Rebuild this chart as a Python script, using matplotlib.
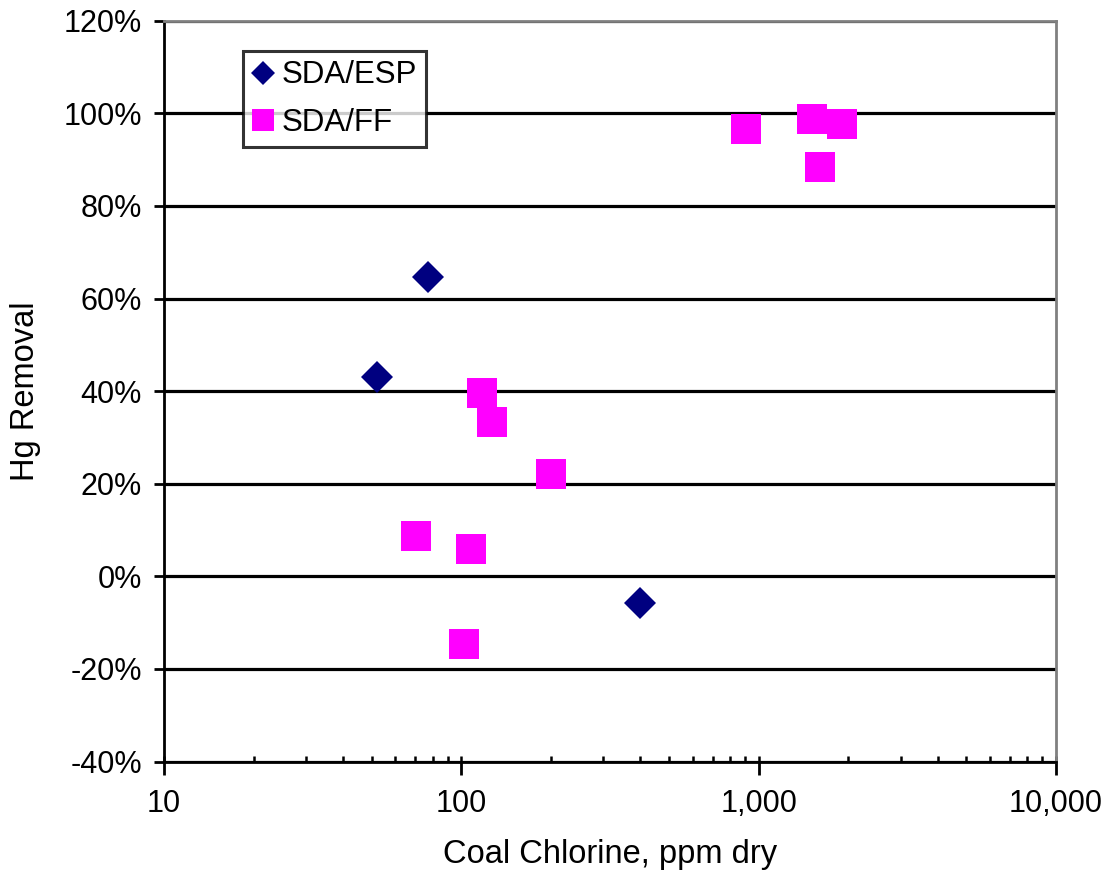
import matplotlib
matplotlib.use("Agg")
import matplotlib.pyplot as plt
from matplotlib.ticker import FuncFormatter, LogLocator, MultipleLocator

plt.rcParams['font.family'] = ['Liberation Sans', 'DejaVu Sans']

esp_x = [77.1, 51.9, 399]
esp_y = [64.6, 43.1, -5.8]
ff_x = [910, 1507, 1914, 1603, 117.4, 126.4, 201, 70.2, 107.4, 101.7]
ff_y = [96.7, 98.8, 97.6, 88.3, 39.5, 33.4, 22.0, 8.6, 6.0, -14.6]
series_names = ["SDA/ESP", "SDA/FF"]
x_label = "Coal Chlorine, ppm dry"
y_label = "Hg Removal"

fig = plt.figure(figsize=(11.09, 8.74), dpi=100)
ax = fig.add_axes([0.1479, 0.1287, 0.9522 - 0.1479, 0.9763 - 0.1287])

ax.plot(esp_x, esp_y, linestyle='none', marker='D', markersize=16.5,
        color='#000080', markeredgewidth=0, label=series_names[0], zorder=3)
ax.plot(ff_x, ff_y, linestyle='none', marker='s', markersize=22.3,
        color='#FF00FF', markeredgewidth=0, label=series_names[1], zorder=3)

ax.set_xscale('log')
ax.set_xlim(10, 10000)
ax.set_ylim(-40, 120)
ax.yaxis.set_major_locator(MultipleLocator(20))
ax.yaxis.set_major_formatter(FuncFormatter(lambda v, p: f"{v:.0f}%"))
ax.xaxis.set_major_locator(LogLocator(base=10, numticks=10))
ax.xaxis.set_minor_locator(LogLocator(base=10, subs=range(1, 10), numticks=20))
ax.xaxis.remove_overlapping_locs = False
ax.xaxis.set_major_formatter(FuncFormatter(lambda v, p: f"{v:,.0f}"))
ax.xaxis.set_minor_formatter(FuncFormatter(lambda v, p: ""))

ax.grid(axis='y', which='major', color='black', linewidth=2.3, zorder=1)
ax.set_axisbelow(True)

for s in ['left', 'bottom']:
    ax.spines[s].set_color('black')
    ax.spines[s].set_linewidth(2.0)
for s in ['top', 'right']:
    ax.spines[s].set_color('#808080')
    ax.spines[s].set_linewidth(2.0)

ax.tick_params(axis='y', which='major', direction='out', length=7, width=2.0,
               labelsize=22, pad=9)
ax.tick_params(axis='x', which='major', direction='out', length=9, width=2.0,
               labelsize=22, pad=11)
ax.tick_params(axis='x', which='minor', direction='in', length=4.3, width=1.8)

ax.set_xlabel(x_label, fontsize=23.5, labelpad=14.5)
ax.set_ylabel(y_label, fontsize=23.5, labelpad=16)

leg = ax.legend(loc='upper left', bbox_to_anchor=(0.0884, 0.959), borderaxespad=0,
                fontsize=22.5, frameon=True, fancybox=False, markerscale=0.72,
                handlelength=0.66, handletextpad=0.28, labelspacing=0.55,
                borderpad=0.3)
leg.get_frame().set_edgecolor('black')
leg.get_frame().set_linewidth(2.2)

fig.savefig("out.png", dpi=100)
